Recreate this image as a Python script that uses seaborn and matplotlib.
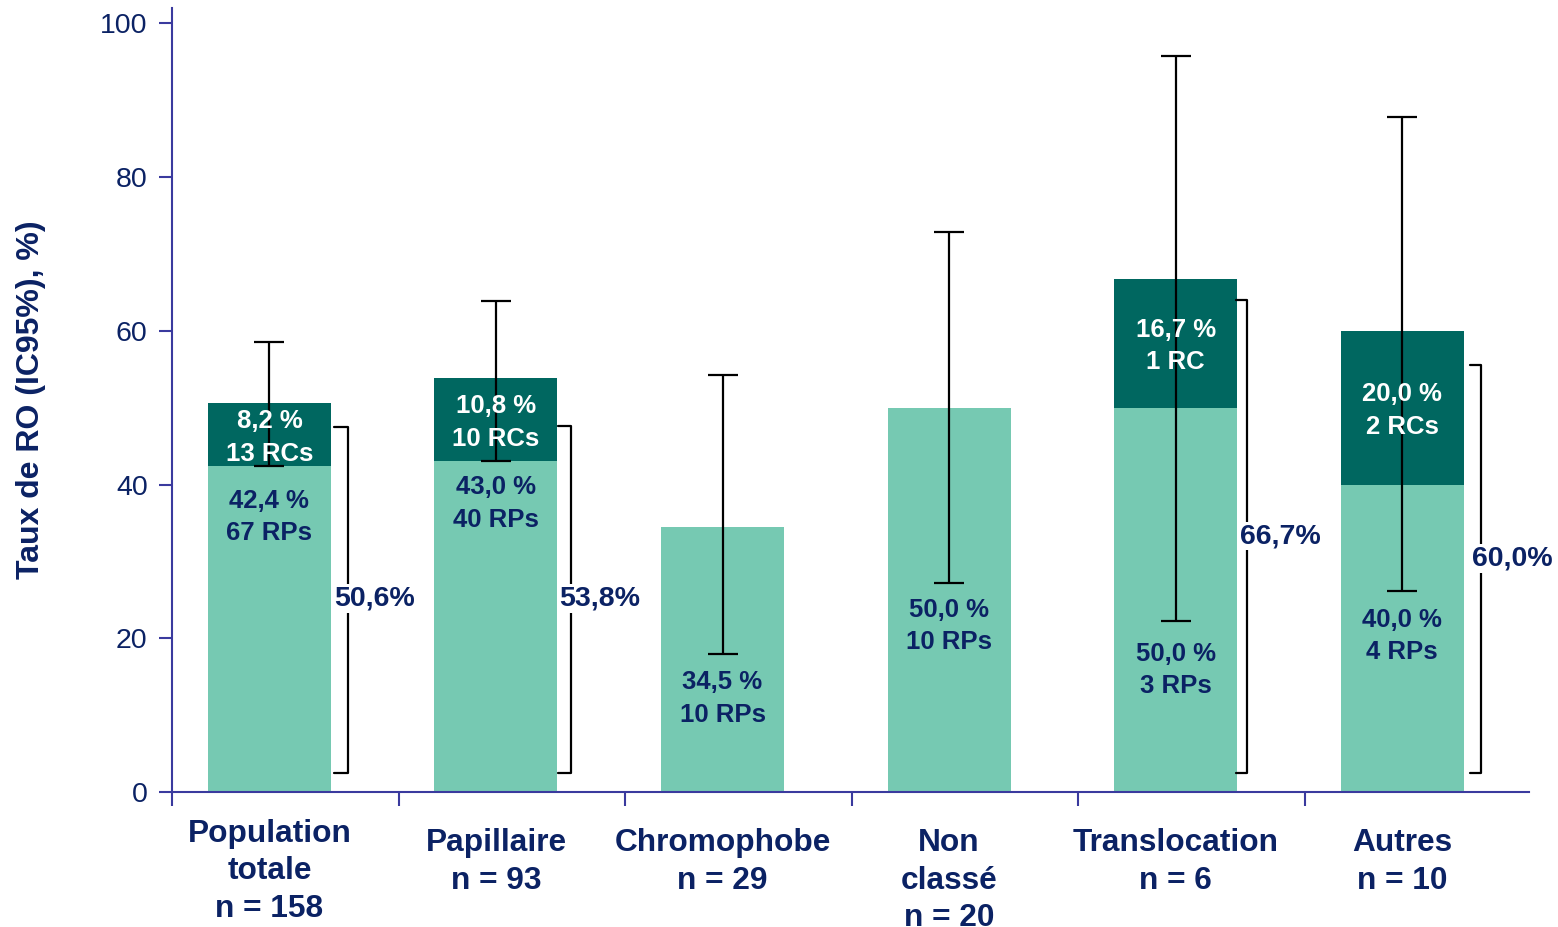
import matplotlib
matplotlib.use('Agg')
import matplotlib.pyplot as plt
import numpy as np
import pandas as pd
import seaborn as sns

# data
categories = ["Population\ntotale", "Papillaire", "Chromophobe", "Non\nclassé", "Translocation", "Autres"]
n_patients = [158, 93, 29, 20, 6, 10]
rp_rate = [42.4, 43.0, 34.5, 50.0, 50.0, 40.0]   # réponses partielles
rc_rate = [8.2, 10.8, 0.0, 0.0, 16.7, 20.0]      # réponses complètes
rp_count = [67, 40, 10, 10, 3, 4]
rc_count = [13, 10, 0, 0, 1, 2]
ci_low = [42.4, 43.0, 17.9, 27.2, 22.3, 26.2]
ci_high = [58.5, 63.9, 54.2, 72.8, 95.7, 87.8]

# label / bracket layout
rp_label_y = [35.8, 37.5, 12.2, 21.6, 15.9, 20.3]
bracket_top = [47.5, 47.6, None, None, 64.0, 55.5]
bracket_bottom = 2.5
bracket_x0 = [0.285, 0.272, 0, 0, 0.267, 0.298]
bracket_x1 = [0.347, 0.330, 0, 0, 0.316, 0.347]
bracket_lab_x = [0.466, 0.457, 0, 0, 0.462, 0.488]
bracket_lab_y = [25.2, 25.2, 0, 0, 33.3, 30.4]

light = "#76C9B2"
dark = "#006760"
navy = "#0B2264"
axis_col = "#3A3A9E"

sns.set_style("ticks")
plt.rcParams['font.family'] = ['Liberation Sans', 'DejaVu Sans']

total = [a + b for a, b in zip(rp_rate, rc_rate)]
df = pd.DataFrame({'cat': categories, 'rp': rp_rate, 'total': total})

fig = plt.figure(figsize=(15.58, 9.27), dpi=100)
ax = fig.add_axes([0.1104, 0.1456, 0.8710, 0.8458])

sns.barplot(data=df, x='cat', y='total', color=dark, saturation=1, width=0.543,
            errorbar=None, linewidth=0, ax=ax)
sns.barplot(data=df, x='cat', y='rp', color=light, saturation=1, width=0.543,
            errorbar=None, linewidth=0, ax=ax)

x = np.arange(len(categories))
tot = np.array(total)
ax.errorbar(x, tot, yerr=[tot - np.array(ci_low), np.array(ci_high) - tot],
            fmt='none', ecolor='black', elinewidth=1.6, capsize=11, capthick=1.6, zorder=4)

# text inside bars
for i in range(len(categories)):
    ax.text(i, rp_label_y[i], f"{rp_rate[i]:.1f} %".replace('.', ',') + f"\n{rp_count[i]} RPs",
            ha='center', va='center', fontsize=18.5, fontweight='bold', color=navy,
            linespacing=1.45, zorder=5)
    if rc_rate[i] > 0:
        unit = "RC" if rc_count[i] == 1 else "RCs"
        ax.text(i, rp_rate[i] + rc_rate[i] / 2 - 0.35,
                f"{rc_rate[i]:.1f} %".replace('.', ',') + f"\n{rc_count[i]} {unit}",
                ha='center', va='center', fontsize=18.5, fontweight='bold', color='white',
                linespacing=1.45, zorder=5)
        # bracket for the total
        top = bracket_top[i]
        x0, x1 = i + bracket_x0[i], i + bracket_x1[i]
        ax.plot([x0, x1, x1, x0], [top, top, bracket_bottom, bracket_bottom],
                color='black', lw=1.6, zorder=3, solid_joinstyle='round')
        ax.text(i + bracket_lab_x[i], bracket_lab_y[i], f"{total[i]:.1f}%".replace('.', ','),
                ha='center', va='center', fontsize=20.5, fontweight='bold', color=navy,
                bbox=dict(facecolor='white', edgecolor='none', pad=1), zorder=5)

# axes styling
ax.set_xlim(-0.43, 5.56)
ax.set_ylim(0, 102)
ax.set_yticks([0, 20, 40, 60, 80, 100])
ax.tick_params(axis='y', labelsize=20.5, labelcolor=navy, length=9.5, width=1.5,
               color=axis_col, pad=8)
ax.set_xticks(x - 0.43, [''] * len(categories))
ax.tick_params(axis='x', which='major', length=10, width=1.5, color=axis_col)
ax.set_xlabel('')
for i, c in enumerate(categories):
    y_top = -0.034 if i == 0 else -0.046
    ax.text(i, y_top, f"{c}\nn = {n_patients[i]}", transform=ax.get_xaxis_transform(),
            ha='center', va='top', fontsize=22.8, fontweight='bold', color=navy,
            linespacing=1.33)

ax.set_ylabel("Taux de RO (IC95%), %)", fontsize=23, fontweight='bold', color=navy)
ax.yaxis.set_label_coords(-0.093, 0.5)

sns.despine(ax=ax)
for s in ['left', 'bottom']:
    ax.spines[s].set_color(axis_col)
    ax.spines[s].set_linewidth(1.5)

fig.savefig('out.png', dpi=100)
